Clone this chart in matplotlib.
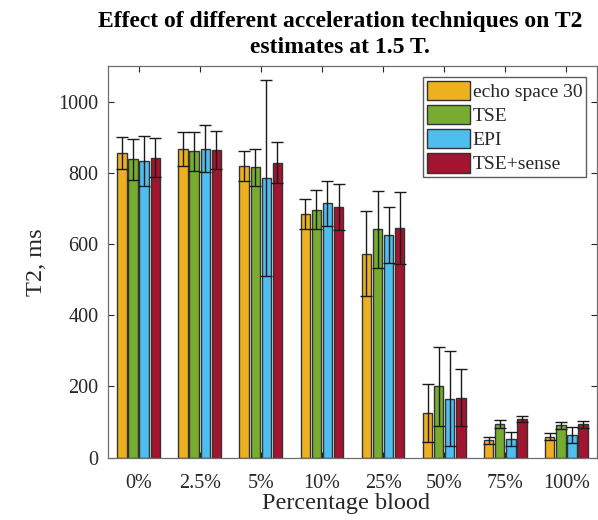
import numpy as np
import matplotlib as mpl
mpl.use("Agg")
import matplotlib.pyplot as plt

mpl.rcParams["font.family"] = ["Liberation Serif", "DejaVu Serif"]

categories = ["0%", "2.5%", "5%", "10%", "25%", "50%", "75%", "100%"]
series = ["echo space 30", "TSE", "EPI", "TSE+sense"]
colors = ["#EDB120", "#77AC30", "#4DBEEE", "#A2142F"]

echo30 = [855, 867, 818, 684, 573, 126, 49, 59]
echo30_err = [45, 49, 42, 43, 119, 82, 10, 9]
tse = [838, 861, 815, 697, 641, 200, 95, 91]
tse_err = [58, 55, 52, 56, 109, 110, 12, 10]
epi = [834, 867, 786, 714, 625, 166, 52, 64]
epi_err = [70, 66, 275, 62, 78, 134, 19, 23]
tse_sense = [843, 864, 829, 704, 644, 169, 108, 94]
tse_sense_err = [56, 53, 58, 65, 101, 79, 9, 10]

values = [echo30, tse, epi, tse_sense]
errors = [echo30_err, tse_err, epi_err, tse_sense_err]

fig = plt.figure(figsize=(5.98, 5.20), dpi=100)
ax = fig.add_axes([108 / 598, 62.3 / 520, 489 / 598, 391.7 / 520])

x = np.arange(1, len(categories) + 1)
step = 0.182
width = 0.155
axis_col = "#262626"

for i, (vals, errs, col, lab) in enumerate(zip(values, errors, colors, series)):
    pos = x + (i - 1.5) * step
    ax.bar(pos, vals, width=width, color=col, edgecolor="#333333",
           linewidth=1.0, label=lab, zorder=2)
    ax.errorbar(pos, vals, yerr=errs, fmt="none", ecolor="#1a1a1a",
                elinewidth=1.0, capsize=4.5, capthick=1.0, zorder=3)

ax.set_xlim(0.5, 8.5)
ax.set_ylim(0, 1100)
ax.set_xticks(x)
ax.set_xticklabels(categories)
ax.set_yticks([0, 200, 400, 600, 800, 1000])
ax.tick_params(direction="in", top=True, right=True, length=4,
               labelsize=14.5, colors=axis_col, width=0.8)
ax.tick_params(axis="x", pad=12)
ax.tick_params(axis="y", pad=7)
for sp in ax.spines.values():
    sp.set_color("#6e6e6e")
    sp.set_linewidth(0.9)

ax.set_ylabel("T2, ms", fontsize=17.5, color=axis_col, labelpad=8)
ax.set_xlabel("Percentage blood", fontsize=17.5, color=axis_col)
ax.xaxis.set_label_coords((346 - 108) / 489, -0.09)

fig.text(340 / 598, 1 - 34.5 / 520,
         "Effect of different acceleration techniques on T2\nestimates at 1.5 T.",
         ha="center", va="center", fontsize=17, fontweight="bold",
         linespacing=1.35, color="black")

leg = ax.legend(loc="upper right", bbox_to_anchor=(0.978, 0.972),
                fontsize=14, frameon=True, fancybox=False,
                handlelength=2.2, handleheight=1.15, handletextpad=0.15,
                labelspacing=0.2, borderpad=0.2, borderaxespad=0.0)
leg.get_frame().set_edgecolor("#333333")
leg.get_frame().set_linewidth(1.0)
for t in leg.get_texts():
    t.set_color(axis_col)

fig.savefig("out.png", dpi=100)
